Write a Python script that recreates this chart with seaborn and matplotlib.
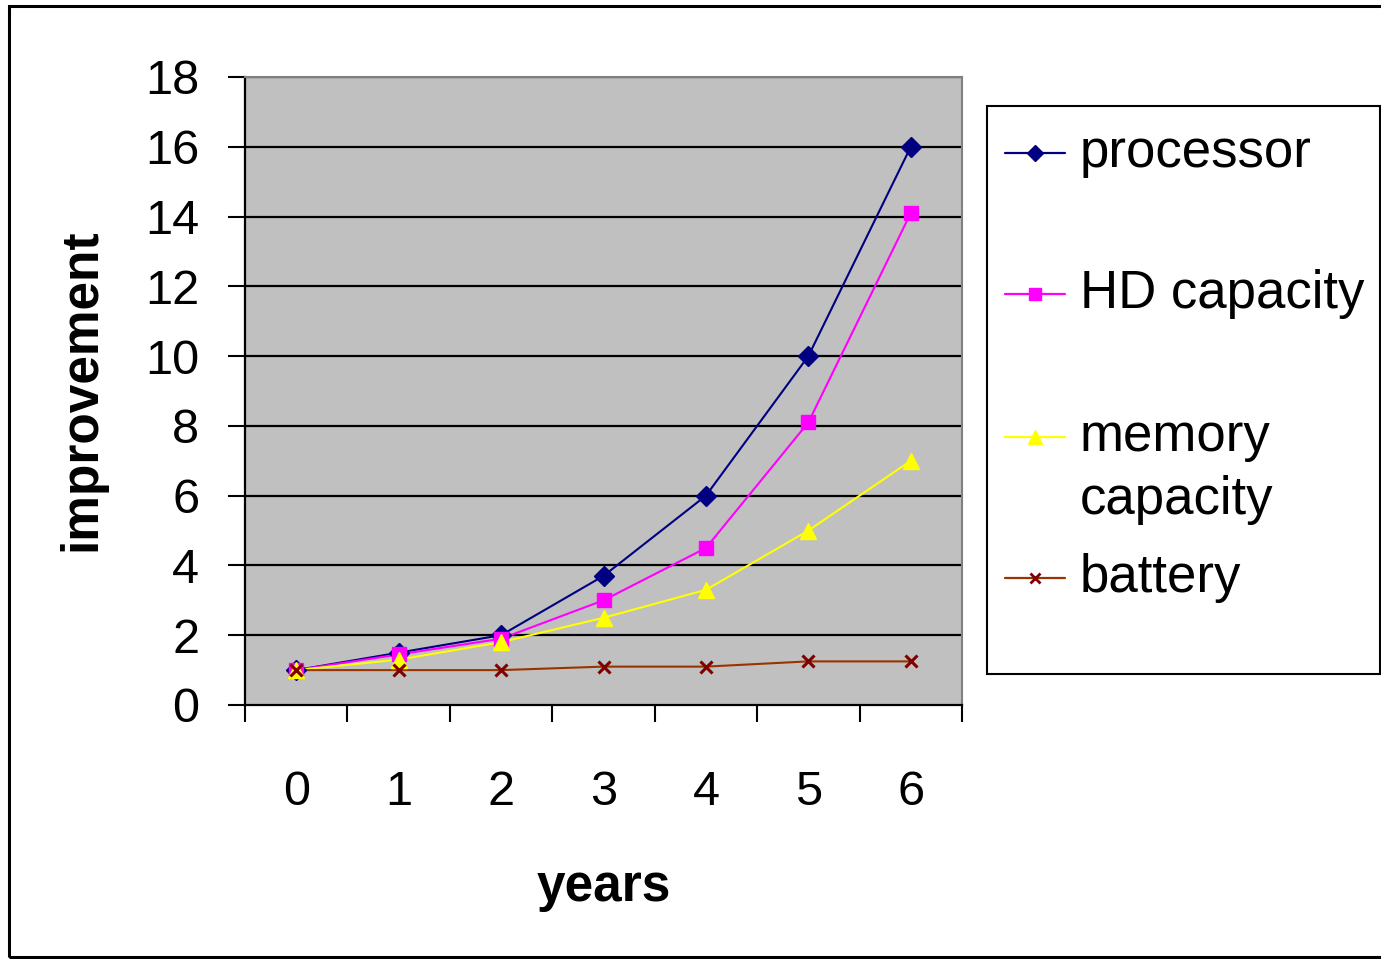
import matplotlib
matplotlib.use("Agg")
import matplotlib.pyplot as plt
from matplotlib.lines import Line2D
from matplotlib.patches import Rectangle
import numpy as np
import pandas as pd
import seaborn as sns

# Relative improvement over six years
years = [0, 1, 2, 3, 4, 5, 6]
processor = [1.0, 1.5, 2.0, 3.7, 6.0, 10.0, 16.0]
hd_capacity = [1.0, 1.45, 1.9, 3.0, 4.5, 8.1, 14.1]
memory_capacity = [1.0, 1.3, 1.8, 2.5, 3.3, 5.0, 7.0]
battery = [1.0, 1.0, 1.0, 1.1, 1.1, 1.25, 1.25]

series_names = ["processor", "HD capacity", "memory capacity", "battery"]
y_ticks = [0, 2, 4, 6, 8, 10, 12, 14, 16, 18]

df = pd.DataFrame({
    "years": years * 4,
    "improvement": processor + hd_capacity + memory_capacity + battery,
    "series": np.repeat(series_names, len(years)),
})

styles = {
    "processor": dict(color="#000080", marker="D", ms=10, mec="#000080", mfc="#000080"),
    "HD capacity": dict(color="#FF00FF", marker="s", ms=9.5, mec="#FF00FF", mfc="#FF00FF"),
    "memory capacity": dict(color="#FFFF00", marker="^", ms=12, mec="#FFFF00", mfc="#FFFF00"),
    "battery": dict(color="#993300", marker="x", ms=8, mec="#800000", mfc="#800000"),
}

sns.set_theme(style="white")
plt.rcParams["font.family"] = ["Liberation Sans", "DejaVu Sans"]
plt.rcParams["text.color"] = "black"
plt.rcParams["xtick.color"] = "black"
plt.rcParams["ytick.color"] = "black"
plt.rcParams["axes.labelcolor"] = "black"

fig = plt.figure(figsize=(13.81, 9.59), dpi=100)
ax = fig.add_axes([245 / 1381, 1 - 705 / 959, 717 / 1381, 628 / 959])
ax.set_facecolor("#C0C0C0")

palette = {k: v["color"] for k, v in styles.items()}
sns.lineplot(data=df, x="years", y="improvement", hue="series", palette=palette,
             linewidth=1.5, legend=False, ax=ax, sort=False)

# markers on top of each series
for name in series_names:
    sub = df[df["series"] == name]
    st = styles[name]
    ax.plot(sub["years"], sub["improvement"], linestyle="none", marker=st["marker"],
            ms=st["ms"], mec=st["mec"], mfc=st["mfc"], mew=2.2 if st["marker"] == "x" else 1,
            zorder=5)

ax.set_xlim(-0.5, 6.5)
ax.set_ylim(0, 18)

# horizontal gridlines
ax.set_yticks(y_ticks)
ax.set_yticklabels([str(t) for t in y_ticks], fontsize=35)
for t in y_ticks[1:]:
    ax.axhline(t, color="black", linewidth=1.6, zorder=1)
ax.tick_params(axis="y", direction="out", length=12, width=1.5, color="black", pad=21, left=True)

# category boundaries carry the ticks, labels sit at the category centres
ax.set_xticks(np.arange(-0.5, 7.0, 1.0))
ax.set_xticklabels([])
ax.set_xticks(years, minor=True)
ax.set_xticklabels([str(y) for y in years], minor=True, fontsize=35)
ax.tick_params(axis="x", which="major", direction="out", length=12, width=1.5,
               color="black", bottom=True)
ax.tick_params(axis="x", which="minor", length=0, pad=47)

for side in ["left", "bottom"]:
    ax.spines[side].set_color("black")
    ax.spines[side].set_linewidth(1.6)
for side in ["top", "right"]:
    ax.spines[side].set_color("#808080")
    ax.spines[side].set_linewidth(1.5)

ax.set_xlabel("")
ax.set_ylabel("")
fig.text(604 / 1381, 1 - 888 / 959, "years", ha="center", va="center",
         fontsize=37, fontweight="bold")
fig.text(82 / 1381, 1 - 390 / 959, "improvement", ha="center", va="center",
         rotation=90, fontsize=37, fontweight="bold")

# legend box
fig.patches.append(Rectangle((987 / 1381, 1 - 674 / 959), (1380 - 987) / 1381, (674 - 106) / 959,
                             transform=fig.transFigure, facecolor="white", edgecolor="black",
                             linewidth=1.5))
legend_rows = {
    "processor": (153, ["processor"]),
    "HD capacity": (294, ["HD capacity"]),
    "memory capacity": (437, ["memory", "capacity"]),
    "battery": (578, ["battery"]),
}
for name, (ypix, lines) in legend_rows.items():
    st = styles[name]
    yf = 1 - ypix / 959
    fig.add_artist(Line2D([1005 / 1381, 1065 / 1381], [yf, yf], transform=fig.transFigure,
                          color=st["color"], linewidth=1.6))
    fig.add_artist(Line2D([1035 / 1381], [yf], transform=fig.transFigure, linestyle="none",
                          marker=st["marker"], ms=st["ms"] * 0.85, mec=st["mec"], mfc=st["mfc"],
                          mew=2 if st["marker"] == "x" else 1))
    for i, line in enumerate(lines):
        fig.text(1080 / 1381, 1 - (ypix + 63 * i) / 959, line, ha="left",
                 va="center", fontsize=38)

# outer chart border
fig.patches.append(Rectangle((9 / 1381, 1 - 957 / 959), 1.1, (957 - 6) / 959,
                             transform=fig.transFigure, facecolor="none", edgecolor="black",
                             linewidth=2.2, clip_on=False))

fig.savefig("out.png", dpi=100)
